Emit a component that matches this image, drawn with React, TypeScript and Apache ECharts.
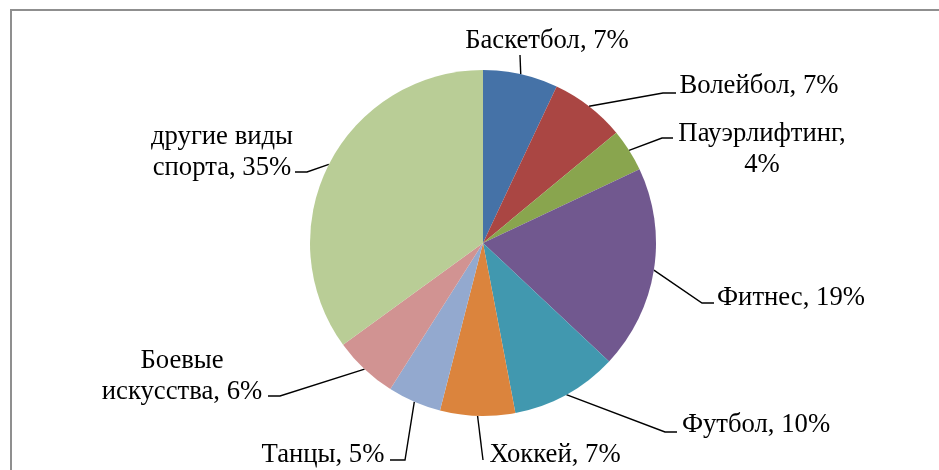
import React, { useEffect, useRef } from "react";
import * as echarts from "echarts";

const categories = [
  "Баскетбол",
  "Волейбол",
  "Пауэрлифтинг",
  "Фитнес",
  "Футбол",
  "Хоккей",
  "Танцы",
  "Боевые искусства",
  "другие виды спорта",
];
const values = [7, 7, 4, 19, 10, 7, 5, 6, 35];
const colors = [
  "#4572A7",
  "#AA4643",
  "#89A54E",
  "#71588F",
  "#4198AF",
  "#DB843D",
  "#93A9CF",
  "#D19392",
  "#B9CD96",
];
// where each label wraps onto a second line ("" = no wrap)
const breakAfter = ["", "", "Пауэрлифтинг,", "", "", "", "", "Боевые", "другие виды"];

// label placement (layout only): text center and leader elbow points
const labelLayouts = [
  { x: 547, y: 39, p1: [520, 55], p2: [520, 55] },
  { x: 759, y: 84, p1: [663, 93], p2: [676, 93] },
  { x: 762, y: 147, p1: [662, 138], p2: [673, 138] },
  { x: 791, y: 296, p1: [702, 303], p2: [714, 303] },
  { x: 756, y: 423, p1: [665, 432], p2: [677, 432] },
  { x: 555, y: 453, p1: [483, 460], p2: [483, 460] },
  { x: 323, y: 453, p1: [405, 460], p2: [390, 460] },
  { x: 182, y: 374, p1: [280, 396], p2: [268, 396] },
  { x: 222, y: 150, p1: [307, 172], p2: [295, 172] },
];

export default function App() {
  const ref = useRef<HTMLDivElement>(null);
  useEffect(() => {
    if (!ref.current) return;
    const chart = echarts.init(ref.current, null, { renderer: "svg" });
    chart.setOption({
      animation: false,
      graphic: [
        {
          type: "rect",
          shape: { x: 11, y: 10, width: 960, height: 500 },
          style: { fill: "none", stroke: "#8f8f8f", lineWidth: 2 },
          silent: true,
        },
      ],
      series: [
        {
          type: "pie",
          center: [483, 243],
          radius: [0, 173],
          startAngle: 90,
          data: categories.map((name, i) => ({
            name,
            value: values[i],
            itemStyle: { color: colors[i] },
          })),
          label: {
            show: true,
            fontFamily: "Liberation Serif",
            fontSize: 26.7,
            lineHeight: 31,
            color: "#000",
            align: "center",
            formatter: (p: any) => {
              const t = `${p.name}, ${p.value}%`;
              const b = breakAfter[p.dataIndex];
              if (b && t.startsWith(b)) {
                return b + "\n" + t.slice(b.length).trim();
              }
              return t;
            },
          },
          labelLine: {
            show: true,
            lineStyle: { color: "#000", width: 1.4 },
          },
          labelLayout: (params: any) => {
            const L = labelLayouts[params.dataIndex];
            const pts = params.labelLinePoints;
            const start = pts && pts[0] ? pts[0] : L.p1;
            return {
              x: L.x,
              y: L.y,
              align: "center",
              verticalAlign: "middle",
              labelLinePoints: [start, L.p1, L.p2],
            };
          },
        },
      ],
    });
    return () => chart.dispose();
  }, []);
  return (
    <div
      ref={ref}
      style={{ position: "fixed", left: 0, top: 0, width: 939, height: 470 }}
    />
  );
}
